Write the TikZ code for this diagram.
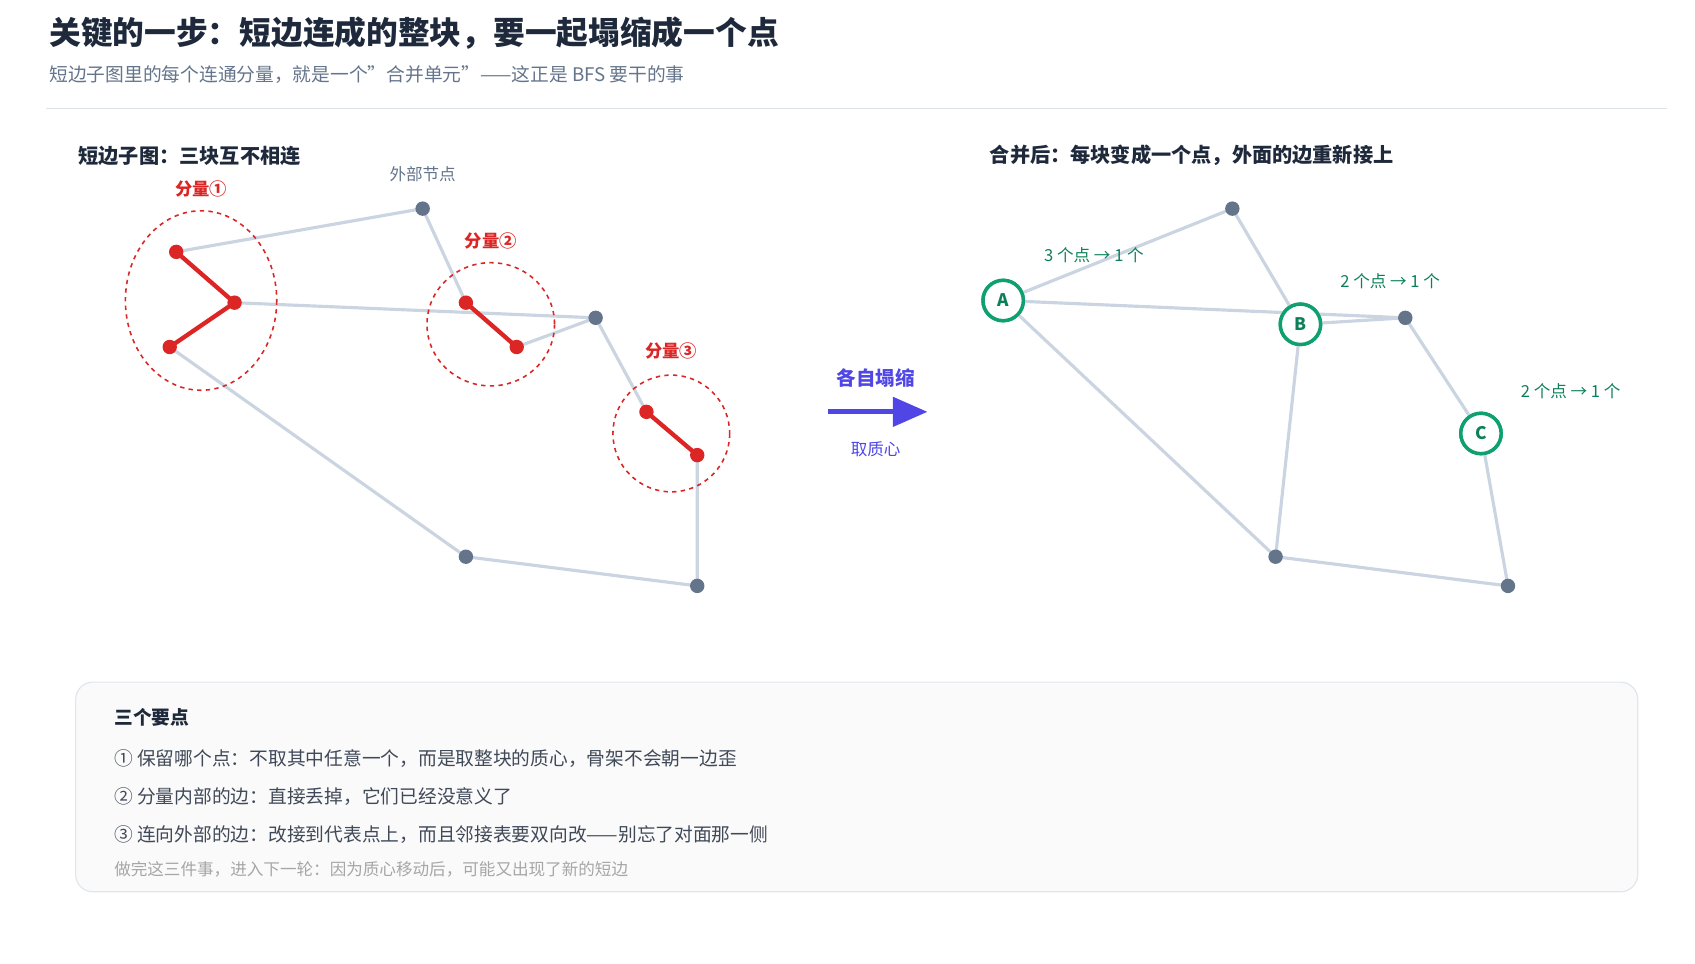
\documentclass[tikz,border=0pt]{standalone}
\usepackage{fontspec}
\setmainfont{Noto Sans CJK SC}
\usetikzlibrary{arrows.meta}
\definecolor{edge}{HTML}{CBD5E1}
\definecolor{vert}{HTML}{64748B}
\definecolor{redc}{HTML}{DC2626}
\definecolor{grn}{HTML}{10A070}
\definecolor{ind}{HTML}{4F46E5}
\definecolor{ink}{HTML}{1E293B}
\definecolor{sub}{HTML}{64748B}
\begin{document}
\begin{tikzpicture}[x=0.75pt,y=-0.75pt,
  e/.style={draw=edge,line width=2.2pt},
  v/.style={circle,fill=vert,inner sep=0,minimum size=10pt},
  r/.style={circle,fill=redc,inner sep=0,minimum size=10pt},
  rl/.style={draw=redc,line width=3pt},
  comp/.style={draw=redc,dashed,line width=1.1pt},
  big/.style={circle,draw=grn,line width=2.4pt,fill=white,minimum size=28pt,inner sep=0,font=\fontsize{12}{14}\selectfont\bfseries,text=grn!80!black},
  cl/.style={font=\fontsize{12}{14}\selectfont\bfseries,text=redc},
  gl/.style={font=\fontsize{11.5}{14}\selectfont,text=grn!80!black},
  hd/.style={anchor=west,font=\fontsize{14}{17}\selectfont\bfseries,text=ink},
  bt/.style={anchor=west,font=\fontsize{13}{16}\selectfont,text=ink!85}]
\useasboundingbox (0,0) rectangle (1568,891);
\node[anchor=west,font=\fontsize{22}{26}\selectfont\bfseries,text=ink] (t) at (41,31) {关键的一步：短边连成的整块，要一起塌缩成一个点};
\node[anchor=west,font=\fontsize{13}{16}\selectfont,text=sub] (st) at (41,69) {短边子图里的每个连通分量，就是一个"合并单元"——这正是 BFS 要干的事};
\draw[draw=edge!70,line width=0.8pt] (43,100) -- (1542,100);
\node[hd] (lh) at (68,144) {短边子图：三块互不相连};
\node[hd] (rh) at (911,144) {合并后：每块变成一个点，外面的边重新接上};
\node[font=\fontsize{11.5}{14}\selectfont,text=sub] (ext) at (391,161) {外部节点};
% left
\coordinate (P1) at (391,193); \coordinate (P2) at (551,294);
\coordinate (P3) at (431,515); \coordinate (P4) at (645,542);
\coordinate (a) at (163,233); \coordinate (b) at (217,280); \coordinate (c) at (157,321);
\coordinate (d) at (431,280); \coordinate (ee) at (478,321);
\coordinate (f) at (598,381); \coordinate (g) at (645,421);
\draw[e] (a)--(P1) (b)--(P2) (P1)--(d) (ee)--(P2) (P2)--(f) (c)--(P3) (P3)--(P4) (P4)--(g);
\draw[rl] (a)--(b)--(c) (d)--(ee) (f)--(g);
\foreach \p in {P1,P2,P3,P4} \node[v] at (\p) {};
\foreach \p in {a,b,c,d,ee,f,g} \node[r] at (\p) {};
\draw[comp] (186,278) ellipse (70 and 83);
\draw[comp] (454,300) ellipse (59 and 57);
\draw[comp] (621,401) ellipse (54 and 54);
\node[cl] at (186,175) {分量①};
\node[cl] at (454,223) {分量②};
\node[cl] at (621,325) {分量③};
% arrow
\node[font=\fontsize{13.5}{16}\selectfont\bfseries,text=ind] (m1) at (810,350) {各自塌缩};
\coordinate (as) at (766,381); \coordinate (ae) at (858,381);
\draw[draw=ind,line width=3.5pt,-{Triangle[length=24pt,width=20pt]}] (as)--(ae);
\node[font=\fontsize{11.5}{14}\selectfont,text=ind] (m2) at (810,416) {取质心};
% right
\coordinate (Q1) at (1140,193); \coordinate (Q2) at (1300,294);
\coordinate (Q3) at (1180,515); \coordinate (Q4) at (1395,542);
\node[big] (A) at (928,278) {A};
\node[big] (B) at (1203,300) {B};
\node[big] (C) at (1370,401) {C};
\begin{scope}[on background layer/.style={}]
\draw[e] (A.center)--(Q1) (A.center)--(Q2) (Q1)--(B.center) (B.center)--(Q2) (Q2)--(C.center) (A.center)--(Q3) (B.center)--(Q3) (Q3)--(Q4) (Q4)--(C.center);
\end{scope}
\node[big] at (A) {A};
\node[big] at (B) {B};
\node[big] at (C) {C};
\foreach \p in {Q1,Q2,Q3,Q4} \node[v] at (\p) {};
\node[gl] at (1012,236) {3 个点 → 1 个};
\node[gl] at (1286,260) {2 个点 → 1 个};
\node[gl] at (1453,362) {2 个点 → 1 个};
% box
\draw[draw=edge!60,fill=gray!4,line width=0.8pt,rounded corners=12pt] (70,631) rectangle (1515,825);
\node[anchor=west,font=\fontsize{13}{16}\selectfont\bfseries,text=ink] at (101,664) {三个要点};
\node[bt] at (101,702) {① 保留哪个点：不取其中任意一个，而是取整块的质心，骨架不会朝一边歪};
\node[bt] at (101,737) {② 分量内部的边：直接丢掉，它们已经没意义了};
\node[bt] at (101,772) {③ 连向外部的边：改接到代表点上，而且邻接表要双向改——别忘了对面那一侧};
\node[anchor=west,font=\fontsize{11.5}{14}\selectfont,text=gray!70] at (101,804) {做完这三件事，进入下一轮：因为质心移动后，可能又出现了新的短边};
\end{tikzpicture}
\end{document}
